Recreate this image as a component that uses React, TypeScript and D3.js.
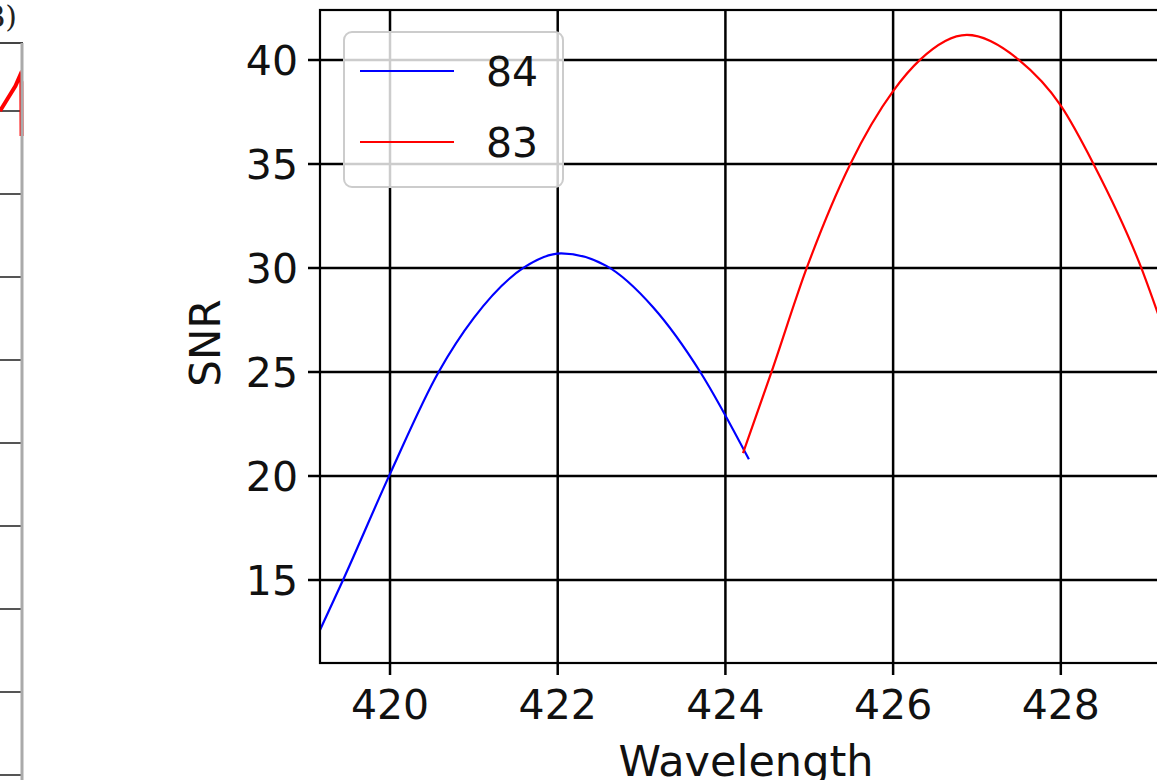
import * as d3 from 'd3';
import React from 'react';

// main panel: SNR against wavelength for two orders
const xTicks = [420, 422, 424, 426, 428];
const yTicks = [15, 20, 25, 30, 35, 40];

const wl84 = [419.165, 419.44, 420.0, 420.58, 421.0, 421.59, 422.04, 422.58, 423.14, 423.7, 424.28];
const snr84 = [12.6, 15.0, 20.1, 25.0, 27.6, 30.0, 30.7, 30.1, 28.1, 25.0, 20.8];

const wl83 = [424.21, 424.55, 424.97, 425.49, 426.0, 426.32, 426.88, 427.5, 428.0, 428.39, 428.96, 429.15, 429.35];
const snr83 = [21.1, 25.0, 30.0, 35.0, 38.5, 40.0, 41.2, 40.0, 37.8, 35.0, 30.0, 27.9, 25.6];

const series = [
  { name: '84', color: 'blue', xs: wl84, ys: snr84 },
  { name: '83', color: 'red', xs: wl83, ys: snr83 },
];

// sliver of the neighbouring panel on the far left
const leftGrid = [0, 1, 2, 3, 4, 5, 6, 7, 8];
const leftRedX = [0.0, 0.35, 0.7, 0.9, 0.97, 0.98];
const leftRedY = [8.0, 8.15, 8.3, 8.42, 8.35, 7.7];

const W = 1157, H = 780;
const font = 'DejaVu Sans, sans-serif';

export default function App() {
  const x = d3.scaleLinear().domain([419.165, 429.66]).range([320, 1200]);
  const y = d3.scaleLinear().domain([11.01, 42.4]).range([663, 10]);

  const line = d3.line<[number, number]>()
    .x(d => x(d[0]))
    .y(d => y(d[1]))
    .curve(d3.curveMonotoneX);

  // left panel scales
  const lx = d3.scaleLinear().domain([0, 1]).range([0, 22]);
  const ly = d3.scaleLinear().domain([0, 8]).range([775, 111]);
  const leftLine = d3.line<[number, number]>().x(d => lx(d[0])).y(d => ly(d[1]));

  const [x0, x1] = x.range();
  const [y0, y1] = y.range();

  return (
    <svg width={W} height={H} style={{ position: 'fixed', left: 0, top: 0, background: '#fff' }}>
      <rect width={W} height={H} fill="#fff" />

      {/* left panel remnant */}
      <text x={17} y={27} textAnchor="end" fontFamily="DejaVu Serif, serif" fontSize={30} fill="#222">(B)</text>
      {leftGrid.map(v => (
        <line key={v} x1={0} x2={22} y1={ly(v)} y2={ly(v)} stroke="#555" strokeWidth={2} />
      ))}
      <line x1={0} x2={23} y1={43} y2={43} stroke="#444" strokeWidth={2} />
      <path d={leftLine(leftRedX.map((v, i) => [v, leftRedY[i]]) as [number, number][]) || ''}
        fill="none" stroke="red" strokeWidth={4} />
      <line x1={22} x2={22} y1={43} y2={H} stroke="#aaa" strokeWidth={3} />

      {/* main panel grid */}
      <g stroke="#000" strokeWidth={2.5}>
        {xTicks.map(t => (
          <line key={'gx' + t} x1={x(t)} x2={x(t)} y1={y1} y2={y0 + 12} />
        ))}
        {yTicks.map(t => (
          <line key={'gy' + t} x1={x0 - 12} x2={x1} y1={y(t)} y2={y(t)} />
        ))}
      </g>

      {/* curves */}
      {series.map(s => (
        <path key={s.name}
          d={line(s.xs.map((v, i) => [v, s.ys[i]]) as [number, number][]) || ''}
          fill="none" stroke={s.color} strokeWidth={2.2} />
      ))}

      {/* spines */}
      <rect x={x0} y={y1} width={x1 - x0} height={y0 - y1} fill="none" stroke="#000" strokeWidth={2.2} />

      {/* tick labels */}
      <g fontFamily={font} fontSize={41} fill="#111">
        {xTicks.map(t => (
          <text key={'lx' + t} x={x(t)} y={719} textAnchor="middle">{t}</text>
        ))}
        {yTicks.map(t => (
          <text key={'ly' + t} x={298} y={y(t)} dy="0.36em" textAnchor="end">{t}</text>
        ))}
      </g>

      <text x={746} y={776} textAnchor="middle" fontFamily={font} fontSize={43} fill="#111">Wavelength</text>
      <text transform="translate(220,343) rotate(-90)" textAnchor="middle" fontFamily={font} fontSize={42} fill="#111">SNR</text>

      {/* legend */}
      <g>
        <rect x={344} y={32} width={219} height={155} rx={8} fill="#fff" fillOpacity={0.8} stroke="#ccc" strokeWidth={2} />
        {series.map((s, i) => (
          <g key={'lg' + s.name} transform={`translate(0,${71 + i * 71})`}>
            <line x1={360} x2={454} y1={0} y2={0} stroke={s.color} strokeWidth={2.2} />
            <text x={486} y={0} dy="0.36em" fontFamily={font} fontSize={41} fill="#111">{s.name}</text>
          </g>
        ))}
      </g>
    </svg>
  );
}
